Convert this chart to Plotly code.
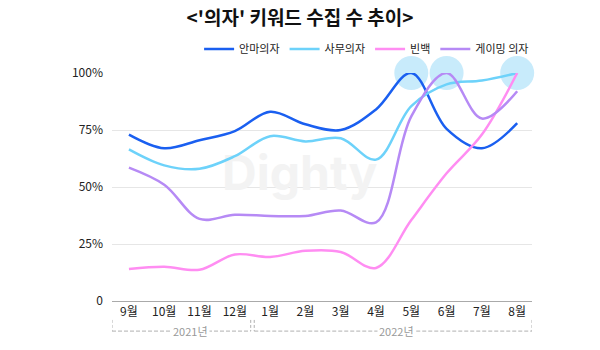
import plotly.graph_objects as go

months = ["9월", "10월", "11월", "12월", "1월", "2월", "3월", "4월", "5월", "6월", "7월", "8월"]
massage = [73, 67, 70.5, 74.5, 83, 77.5, 75, 84, 100, 75.5, 67, 78]
office = [66.5, 59.5, 58, 63.5, 72.3, 70, 71.4, 62, 85.5, 95, 96.7, 100]
beanbag = [14, 15, 13.7, 20.4, 19.3, 22, 21.5, 14.5, 35.5, 56, 73, 100]
gaming = [58.5, 51, 36, 37.8, 37.3, 37.3, 39.7, 34.5, 81, 100, 80, 92]
highlight_idx = [8, 9, 11]
highlight_val = [100, 100, 100]
y_tickvals = [0, 25, 50, 75, 100]
y_ticktext = ["0", "25%", "50%", "75%", "100%"]
years = ["2021년", "2022년"]

x = list(range(len(months)))
FONT = "Noto Sans CJK KR"

fig = go.Figure()

# watermark (drawn first so it lies under the lines)
fig.add_trace(go.Scatter(
    x=[4.84], y=[54], mode="text", text=["<b>Dighty</b>"],
    textfont=dict(family="Inter", size=48, color="#f3f3f3"),
    showlegend=False, hoverinfo="skip"))

# highlight circles
fig.add_trace(go.Scatter(
    x=[x[i] for i in highlight_idx], y=highlight_val, mode="markers",
    marker=dict(size=34, color="#c8ebfb", line=dict(width=0)),
    showlegend=False, hoverinfo="skip", cliponaxis=False))

series = [
    ("안마의자", massage, "#1a5ff0"),
    ("사무의자", office, "#6dd2fa"),
    ("빈백", beanbag, "#ff8df2"),
    ("게이밍 의자", gaming, "#b68af5"),
]
for name, vals, col in series:
    fig.add_trace(go.Scatter(
        x=x, y=vals, name=name, mode="lines",
        line=dict(color=col, width=2.5, shape="spline", smoothing=1.0),
        cliponaxis=False))

shapes = []
dash_col = "#b0b0b0"
y_top, y_bot = -0.083, -0.132
brackets = [(-0.48, 3.45), (3.55, 11.42)]
for (x0, x1) in brackets:
    shapes.append(dict(type="line", xref="x", yref="paper", x0=x0, x1=x0, y0=y_top, y1=y_bot,
                       line=dict(color=dash_col, width=1, dash="3px,2px")))
    shapes.append(dict(type="line", xref="x", yref="paper", x0=x1, x1=x1, y0=y_top, y1=y_bot,
                       line=dict(color=dash_col, width=1, dash="3px,2px")))
    shapes.append(dict(type="line", xref="x", yref="paper", x0=x0, x1=x1, y0=y_bot, y1=y_bot,
                       line=dict(color=dash_col, width=1, dash="4px,2px")))

annotations = []
for (x0, x1), lab in zip(brackets, years):
    annotations.append(dict(x=(x0 + x1) / 2 + (0.25 if lab == "2021년" else 0.1), y=y_bot, xref="x", yref="paper",
                            text=lab, showarrow=False, bgcolor="white",
                            font=dict(family=FONT, size=11, color="#999999"),
                            xanchor="center", yanchor="middle", borderpad=1))

fig.update_layout(
    width=600, height=350,
    margin=dict(l=112, r=68, t=73, b=49),
    paper_bgcolor="white", plot_bgcolor="white",
    font=dict(family=FONT, color="#222222"),
    title=dict(text="<b>&lt;'의자' 키워드 수집 수 추이&gt;</b>", x=0.5, xanchor="center",
               y=0.948, yanchor="middle", font=dict(family=FONT, size=19, color="#111111")),
    legend=dict(orientation="h", x=1.005, xanchor="right", y=1.105, yanchor="middle",
                font=dict(family=FONT, size=11, color="#222222"), itemwidth=30,
                traceorder="normal", bgcolor="rgba(0,0,0,0)"),
    xaxis=dict(tickmode="array", tickvals=x, ticktext=months, range=[-0.48, 11.42],
               showgrid=False, zeroline=False, showline=True, linecolor="#aaaaaa", linewidth=1,
               ticks="", tickfont=dict(family=FONT, size=12, color="#222222")),
    yaxis=dict(tickmode="array", tickvals=y_tickvals, ticktext=y_ticktext, range=[0, 100],
               showgrid=True, gridcolor="#e6e6e6", gridwidth=1, zeroline=False, showline=False,
               ticks="", ticklabelstandoff=8, tickfont=dict(family=FONT, size=12, color="#222222")),
    shapes=shapes, annotations=annotations,
)

fig.write_html("out.html")
